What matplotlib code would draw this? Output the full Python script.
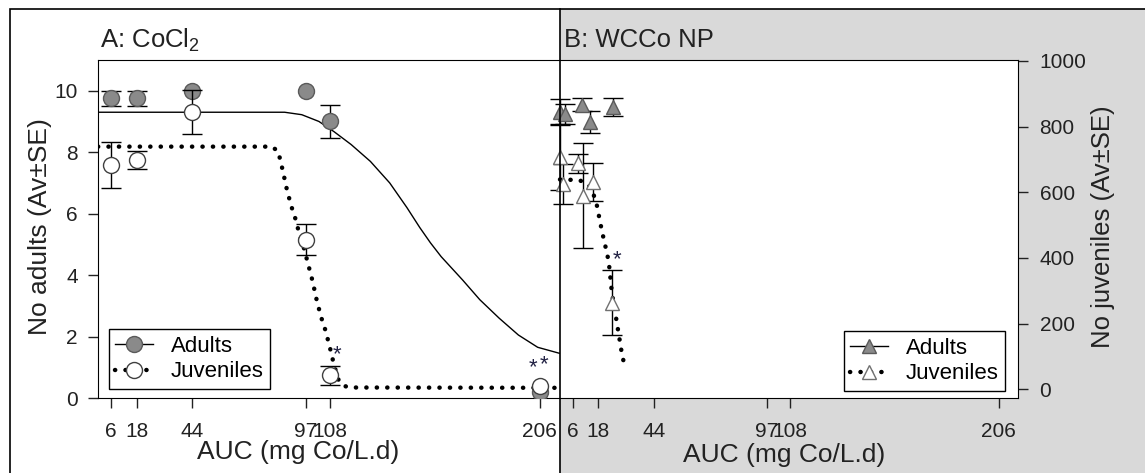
import matplotlib
matplotlib.use("Agg")
from matplotlib import pyplot as plt
from matplotlib.lines import Line2D
from matplotlib.patches import Rectangle
import numpy as np

plt.rcParams['font.family'] = ['Liberation Sans', 'DejaVu Sans']
plt.rcParams['mathtext.default'] = 'regular'

auc_ticks = [6, 18, 44, 97, 108, 206]

# panel A: CoCl2
auc_a = [6, 18, 44, 97, 108, 206]
adults_a = [9.75, 9.75, 10.0, 10.0, 9.0, 0.2]
adults_a_se = [0.25, 0.25, 0, 0, 0.55, 0]
juv_a = [683, 698, 845, 455, 42, 10]
juv_a_se = [71, 27, 68, 47, 29, 0]

fit_a_adults_x = [0, 87, 95, 103, 110, 118, 127, 136, 144, 150, 155, 160,
                  170, 178, 187, 196, 205, 215.4]
fit_a_adults = [9.3, 9.3, 9.22, 9.0, 8.67, 8.25, 7.7, 7.0, 6.2, 5.55, 5.05, 4.6,
                3.84, 3.2, 2.6, 2.05, 1.65, 1.45]
fit_a_juv_x = [0, 81, 84, 86, 88, 90, 92, 94, 96, 98, 100, 102, 104, 106,
               108, 110, 112, 114, 117, 215.4]
fit_a_juv = [739, 739, 725, 670, 610, 560, 520, 470, 430, 380, 330, 270, 220,
             180, 130, 75, 30, 12, 5, 4]

stars_a_x = [111.5, 203, 208]
stars_a_y = [104, 64, 73]

# panel B: WCCo NP
auc_b_adults = [0, 2.5, 10.5, 14, 25]
adults_b = [9.3, 9.25, 9.55, 8.98, 9.47]
adults_b_se = [0.42, 0.33, 0.22, 0.37, 0.3]
auc_b_juv = [0, 1.5, 8.5, 11, 15.5, 24.3]
juv_b = [708, 625, 688, 590, 630, 264]
juv_b_se = [100, 60, 30, 160, 58, 99]

fit_b_juv_x = [0, 9, 13, 15, 16.5, 17.5, 18.5, 19.5, 20.5, 21.5, 22.5, 23.3,
               24, 25, 26, 27, 28, 29, 30]
fit_b_juv = [639, 637, 625, 605, 580, 555, 520, 488, 458, 430, 400, 365,
             315, 266, 230, 190, 150, 110, 80]

stars_b_x = [26.8]
stars_b_y = [396]

W, H = 1145, 473
GREY = '#8a8a8a'
INK = '#222222'
DOTS = dict(color='black', lw=3.2, linestyle=(0, (0.05, 2.3)), dash_capstyle='round')


def box(l, t, r, b):
    return [l / W, 1 - b / H, (r - l) / W, (b - t) / H]


def se_mask(se):
    se = np.array(se, dtype=float)
    return np.where(se > 0, se, np.nan)


def no_clip(container):
    for art in container.get_children():
        art.set_clip_on(False)


fig = plt.figure(figsize=(W / 100, H / 100), dpi=100)
fig.patches.append(Rectangle((560 / W, 0), 1, 1 - 9 / H, transform=fig.transFigure,
                             facecolor='#d9d9d9', edgecolor='none', zorder=-1))
fig.patches.append(Rectangle((10 / W, -0.1), 1.2, 1.1 - 9 / H, transform=fig.transFigure,
                             fill=False, edgecolor='black', lw=1.2, zorder=5))
fig.add_artist(Line2D([560 / W, 560 / W], [0, 1 - 9 / H], transform=fig.transFigure,
                      color='black', lw=1.2, zorder=6))

tick_kw = dict(direction='out', length=7.5, width=1, labelsize=15, colors=INK)

# ---- panel A
ax_a = fig.add_axes(box(98, 60, 560, 398))
ax_a.set_xlim(0, 215.4)
ax_a.set_ylim(0, 11)
ax_a.spines['right'].set_visible(False)
ax_a.set_xticks(auc_ticks)
ax_a.set_yticks(range(0, 11, 2))
ax_a.tick_params(pad=7, **tick_kw)
ax_a.tick_params(axis='x', pad=10)
ax_a.plot(fit_a_adults_x, fit_a_adults, color='black', lw=1, zorder=2)
ax_a.errorbar(auc_a, adults_a, yerr=se_mask(adults_a_se), fmt='o', ms=11.5,
              mfc=GREY, mec='#5a5a5a', ecolor='black', elinewidth=1, capsize=7,
              capthick=1, zorder=3)

ax_a2 = ax_a.twinx()
ax_a2.set_ylim(-27, 1003)
ax_a2.axis('off')
ax_a2.plot(fit_a_juv_x, fit_a_juv, zorder=2, **DOTS)
ax_a2.errorbar(auc_a, juv_a, yerr=se_mask(juv_a_se), fmt='o', ms=11.5,
               mfc='white', mec='#404040', ecolor='black', elinewidth=1, capsize=7,
               capthick=1, zorder=3)
for x, y in zip(stars_a_x, stars_a_y):
    ax_a2.text(x, y, '*', fontsize=16, ha='center', va='center', color='#222244')

h_ad = Line2D([], [], color='black', lw=1, marker='o', ms=11.5, mfc=GREY, mec='#5a5a5a')
h_juv = Line2D([], [], marker='o', ms=11.5, mfc='white', mec='#404040', **DOTS)
leg = ax_a2.legend([h_ad, h_juv], ['Adults', 'Juveniles'], loc='lower left',
                   bbox_to_anchor=((108.5 - 98) / 462, (398 - 389) / 338),
                   fontsize=16, frameon=True, fancybox=False, edgecolor='black',
                   framealpha=1, numpoints=1, handlelength=1.7, handletextpad=0.8,
                   borderpad=0.3, labelspacing=0.2, borderaxespad=0)
leg.get_frame().set_linewidth(1)

# ---- panel B
ax_b = fig.add_axes(box(560, 60, 1018, 398))
ax_b.set_xlim(0, 215)
ax_b.set_ylim(0, 11)
ax_b.spines['left'].set_visible(False)
ax_b.spines['right'].set_visible(False)
ax_b.set_xticks(auc_ticks)
ax_b.set_yticks([])
ax_b.tick_params(pad=10, **tick_kw)
no_clip(ax_b.errorbar(auc_b_adults, adults_b, yerr=adults_b_se, fmt='^', ms=10,
                      mfc=GREY, mec='#5a5a5a', ecolor='black', elinewidth=1,
                      capsize=7, capthick=1, zorder=3))

ax_b2 = ax_b.twinx()
ax_b2.set_ylim(-27, 1003)
for side in ['left', 'top', 'bottom']:
    ax_b2.spines[side].set_visible(False)
ax_b2.set_yticks(range(0, 1001, 200))
ax_b2.tick_params(pad=8, **tick_kw)
ax_b2.plot(fit_b_juv_x, fit_b_juv, zorder=2, clip_on=False, **DOTS)
no_clip(ax_b2.errorbar(auc_b_juv, juv_b, yerr=juv_b_se, fmt='^', ms=10,
                       mfc='white', mec='#707070', ecolor='black', elinewidth=1,
                       capsize=7, capthick=1, zorder=3))
for x, y in zip(stars_b_x, stars_b_y):
    ax_b2.text(x, y, '*', fontsize=16, ha='center', va='center', color='#222244')

h_ad_b = Line2D([], [], color='black', lw=1, marker='^', ms=10, mfc=GREY, mec='#5a5a5a')
h_juv_b = Line2D([], [], marker='^', ms=10, mfc='white', mec='#707070', **DOTS)
leg_b = ax_b2.legend([h_ad_b, h_juv_b], ['Adults', 'Juveniles'], loc='lower right',
                     bbox_to_anchor=((1005.5 - 560) / 458, (398 - 391) / 338),
                     fontsize=16, frameon=True, fancybox=False, edgecolor='black',
                     framealpha=1, numpoints=1, handlelength=1.7, handletextpad=0.8,
                     borderpad=0.3, labelspacing=0.2, borderaxespad=0)
leg_b.get_frame().set_linewidth(1)

# ---- titles and axis labels
fig.text(100 / W, 1 - 40 / H, 'A: CoCl$_2$', fontsize=18.5, va='center', ha='left', color=INK)
fig.text(564 / W, 1 - 40 / H, 'B: WCCo NP', fontsize=18.5, va='center', ha='left', color=INK)
fig.text(298 / W, 1 - 452 / H, 'AUC (mg Co/L.d)', fontsize=19, ha='center', va='center', color=INK)
fig.text(784 / W, 1 - 455 / H, 'AUC (mg Co/L.d)', fontsize=19, ha='center', va='center', color=INK)
fig.text(40 / W, 1 - 227 / H, 'No adults (Av±SE)', fontsize=19, rotation=90,
         ha='center', va='center', color=INK)
fig.text(1103 / W, 1 - 227 / H, 'No juveniles (Av±SE)', fontsize=18.5, rotation=90,
         ha='center', va='center', color=INK)

fig.savefig('out.png', dpi=100)
